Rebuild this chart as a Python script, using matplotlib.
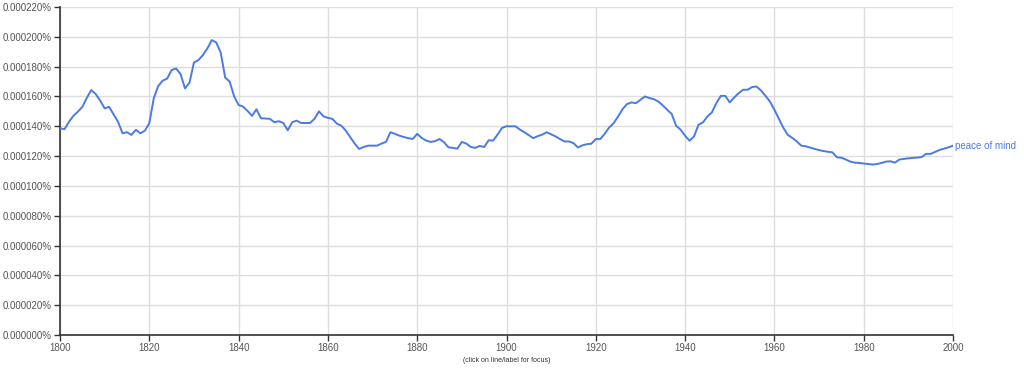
#!/usr/bin/env python3
"""Ngram-style frequency chart for 'peace of mind', 1800-2000."""

import matplotlib
matplotlib.use("Agg")
import matplotlib.pyplot as plt
from matplotlib.ticker import FuncFormatter

plt.rcParams['font.family'] = ['Liberation Sans', 'DejaVu Sans']

years = list(range(1800, 2001))

# frequency in units of 1e-6 percent
freq = [
    138.7, 138.0, 143.0, 147.0, 149.8, 153.0, 159.0, 164.3, 161.6, 157.2,
    152.0, 153.0, 148.0, 143.0, 135.3, 136.0, 134.2, 137.6, 135.3, 137.0,
    142.0, 158.8, 167.0, 170.6, 172.0, 177.7, 178.8, 175.0, 165.4, 169.2,
    182.8, 184.4, 187.7, 192.2, 197.8, 196.2, 189.3, 172.6, 170.0, 160.0,
    154.3, 153.2, 150.3, 147.0, 151.4, 145.4, 145.2, 145.0, 142.7, 143.4,
    142.2, 137.3, 142.7, 143.8, 142.2, 142.2, 142.2, 145.0, 150.0, 146.7,
    145.6, 145.0, 141.8, 140.4, 137.1, 132.8, 128.4, 124.8, 126.1, 127.0,
    127.0, 127.0, 128.4, 129.5, 136.0, 134.9, 133.7, 132.8, 132.0, 131.5,
    134.9, 132.2, 130.4, 129.5, 130.0, 131.5, 129.3, 125.9, 125.5, 125.0,
    129.5, 128.4, 126.1, 125.5, 126.8, 126.1, 130.6, 130.4, 134.4, 138.9,
    140.0, 140.0, 140.0, 137.8, 136.0, 134.0, 132.0, 133.4, 134.4, 136.0,
    134.6, 133.2, 131.4, 129.8, 129.8, 128.7, 125.8, 127.2, 128.0, 128.3,
    131.4, 131.4, 135.0, 139.2, 142.1, 146.6, 151.5, 154.9, 156.0, 155.5,
    157.8, 160.0, 158.9, 158.2, 156.6, 154.0, 151.1, 148.2, 140.3, 137.7,
    133.6, 130.3, 133.2, 141.0, 142.6, 146.6, 149.3, 155.5, 160.4, 160.4,
    156.0, 159.3, 162.2, 164.5, 164.5, 166.3, 166.7, 164.0, 160.4, 156.6,
    151.1, 145.0, 139.0, 134.2, 132.2, 129.9, 127.0, 126.6, 125.7, 124.8,
    124.0, 123.4, 122.9, 122.5, 119.2, 118.9, 117.7, 116.3, 115.6, 115.4,
    115.0, 114.7, 114.3, 114.7, 115.4, 116.3, 116.5, 115.6, 117.7, 118.1,
    118.5, 118.8, 119.0, 119.4, 121.5, 121.5, 122.8, 124.1, 125.0, 125.9,
    127.0,
]
freq_pct = [v * 1e-6 for v in freq]

label = "peace of mind"
x_ticks = list(range(1800, 2001, 20))
y_ticks = [i * 0.00002 for i in range(12)]

line_color = "#4a7ae4"
text_color = "#555555"

fig = plt.figure(figsize=(10.24, 3.74), dpi=100)
ax = fig.add_axes([60 / 1024, 1 - 335 / 374, 893 / 1024, 328 / 374])

ax.plot(years, freq_pct, color=line_color, linewidth=1.4, zorder=3)

ax.set_xlim(1800, 2000)
ax.set_ylim(0, 0.00022)
ax.set_xticks(x_ticks)
ax.set_yticks(y_ticks)
ax.yaxis.set_major_formatter(FuncFormatter(lambda v, p: f"{v:.6f}%"))

ax.grid(True, color="#dddddd", linewidth=1, zorder=0)
ax.set_axisbelow(True)
for side in ["top", "right"]:
    ax.spines[side].set_visible(False)
for side in ["left", "bottom"]:
    ax.spines[side].set_color("#333333")
    ax.spines[side].set_linewidth(1.2)
ax.tick_params(axis="both", direction="out", length=4, width=1,
               color="#333333", labelcolor=text_color, labelsize=7, pad=2)

ax.text(2000.5, freq_pct[-1], label, color=line_color, fontsize=7,
        va="center", ha="left", clip_on=False)

fig.text(507 / 1024, 1 - 361 / 374, "(click on line/label for focus)",
         color="#333333", fontsize=5, ha="center", va="center")

fig.savefig("out.png", dpi=100)
